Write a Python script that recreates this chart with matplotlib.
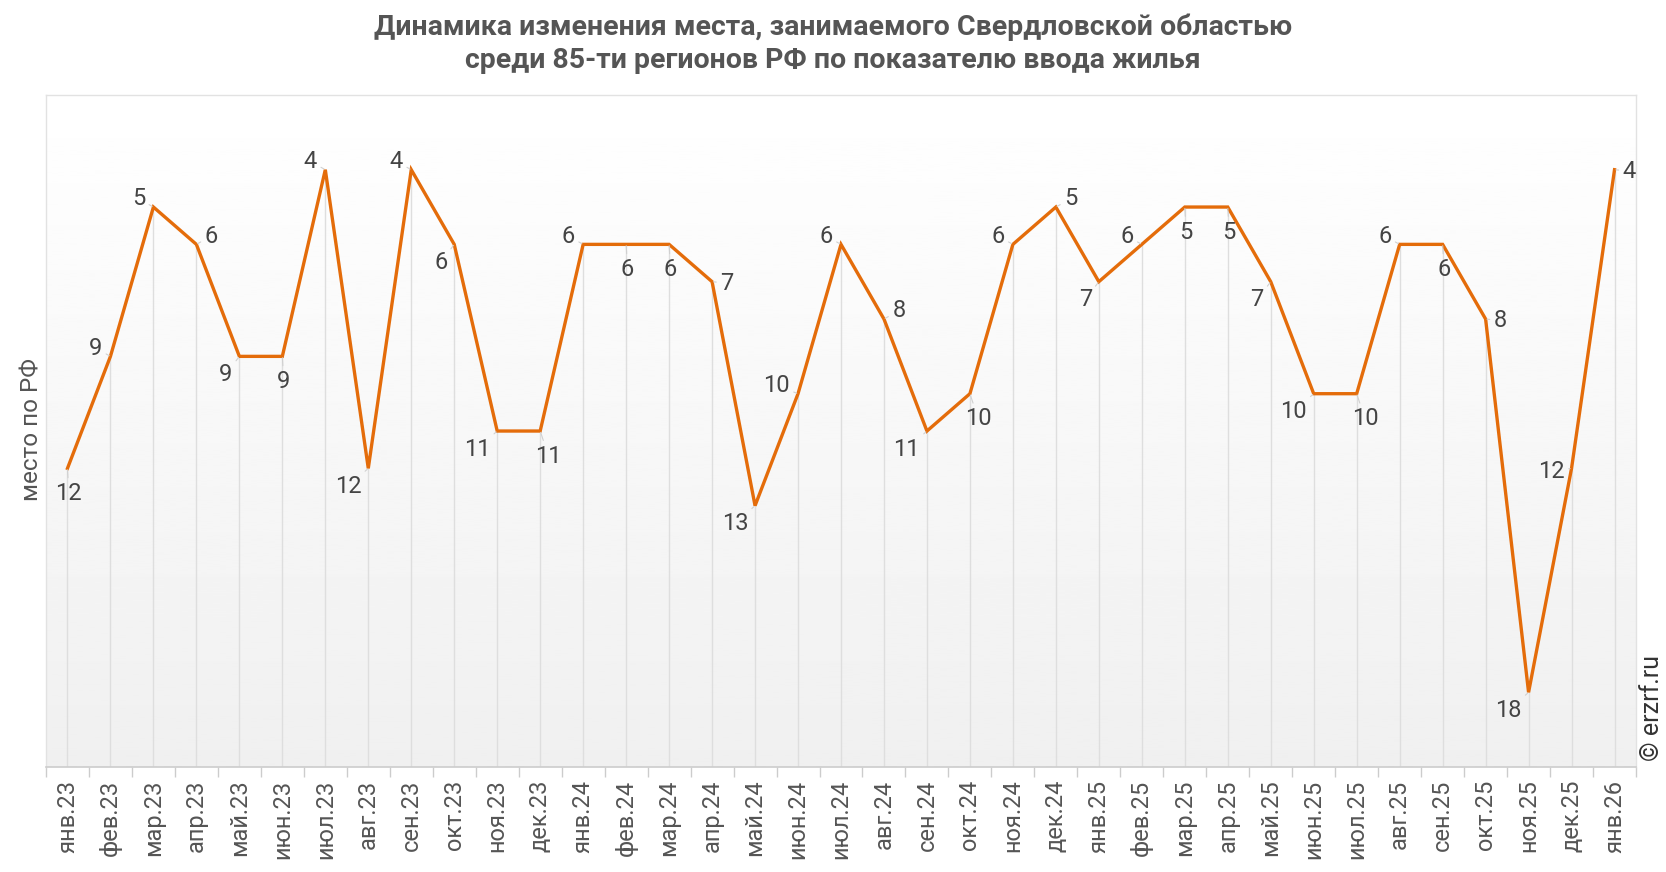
import numpy as np
import matplotlib.pyplot as plt

plt.rcParams['font.family'] = ['Roboto', 'DejaVu Sans']

# данные
months = ['янв.23', 'фев.23', 'мар.23', 'апр.23', 'май.23', 'июн.23', 'июл.23', 'авг.23',
          'сен.23', 'окт.23', 'ноя.23', 'дек.23', 'янв.24', 'фев.24', 'мар.24', 'апр.24',
          'май.24', 'июн.24', 'июл.24', 'авг.24', 'сен.24', 'окт.24', 'ноя.24', 'дек.24',
          'янв.25', 'фев.25', 'мар.25', 'апр.25', 'май.25', 'июн.25', 'июл.25', 'авг.25',
          'сен.25', 'окт.25', 'ноя.25', 'дек.25', 'янв.26']
places = [12, 9, 5, 6, 9, 9, 4, 12, 4, 6, 11, 11, 6, 6, 6, 7, 13, 10, 6, 8, 11, 10, 6, 5,
          7, 6, 5, 5, 7, 10, 10, 6, 6, 8, 18, 12, 4]

# где ставить подпись относительно точки
label_side = ['b', 'ul', 'ul', 'ur', 'll', 'b', 'ul', 'll', 'ul', 'll', 'll', 'lr', 'ul',
              'b', 'b', 'r', 'll', 'ul', 'ul', 'ur', 'll', 'lr', 'ul', 'ur', 'll', 'ul',
              'b', 'b', 'll', 'll', 'lr', 'ul', 'b', 'r', 'll', 'l', 'r']
side_style = {
    'ul': ((-6, 6), 'right'),
    'ur': ((6, 6), 'left'),
    'll': ((-5, -13), 'right'),
    'lr': ((6, -18), 'center'),
    'b': ((1, -18), 'center'),
    'r': ((6, -1), 'left'),
    'l': ((-5, -2), 'right'),
}

line_color = '#E46C0A'
text_color = '#555555'

fig = plt.figure(figsize=(16.66, 8.72), dpi=100)
ax = fig.add_axes([0.0276, 0.1204, 0.9544, 0.7706])

x = np.arange(len(months))
ax.set_xlim(-0.5, len(months) - 0.5)
ax.set_ylim(20, 2)

# фон-градиент
grad = np.linspace(1.0, 0.94, 256).reshape(-1, 1)
ax.imshow(grad, extent=[-0.5, len(months) - 0.5, 20, 2], aspect='auto',
          cmap='gray', vmin=0, vmax=1, zorder=0, origin='upper')

# вертикальные линии от точек вниз
ax.vlines(x, places, 20, color='#dedede', lw=1, zorder=1)

ax.plot(x, places, color=line_color, lw=2.4, zorder=3, solid_joinstyle='miter')

for i, v in enumerate(places):
    (dx, dy), ha = side_style[label_side[i]]
    ax.annotate(str(v), (i, v), xytext=(dx, dy), textcoords='offset points',
                ha=ha, va='center', fontsize=17, color='#444444', zorder=4,
                arrowprops=dict(arrowstyle='-', color='#d0d0d0', lw=0.8,
                                shrinkA=1, shrinkB=1))

ax.set_xticks(x)
ax.set_xticklabels(months, rotation=90, fontsize=17, color=text_color)
ax.set_xticks(np.arange(len(months) + 1) - 0.5, minor=True)
ax.tick_params(axis='x', which='major', length=0, pad=9)
ax.tick_params(axis='x', which='minor', length=7, color='#cccccc', width=1)
ax.set_yticks([])

for s in ['top', 'right', 'left']:
    ax.spines[s].set_color('#e2e2e2')
    ax.spines[s].set_linewidth(1)
ax.spines['bottom'].set_color('#cccccc')
ax.spines['bottom'].set_linewidth(1.2)

fig.text(0.5, 0.985, 'Динамика изменения места, занимаемого Свердловской областью\n'
         'среди 85-ти регионов РФ по показателю ввода жилья',
         ha='center', va='top', fontsize=20.5, fontweight='bold', color=text_color,
         linespacing=1.3)
fig.text(32 / 1666, 1 - 430 / 872, 'место по РФ', rotation=90, ha='center', va='center',
         fontsize=17.5, color=text_color)
fig.text(1652 / 1666, 1 - 708 / 872, '© erzrf.ru', rotation=90, ha='center', va='center',
         fontsize=18, color='#333333')

fig.savefig('out.png', dpi=100)
